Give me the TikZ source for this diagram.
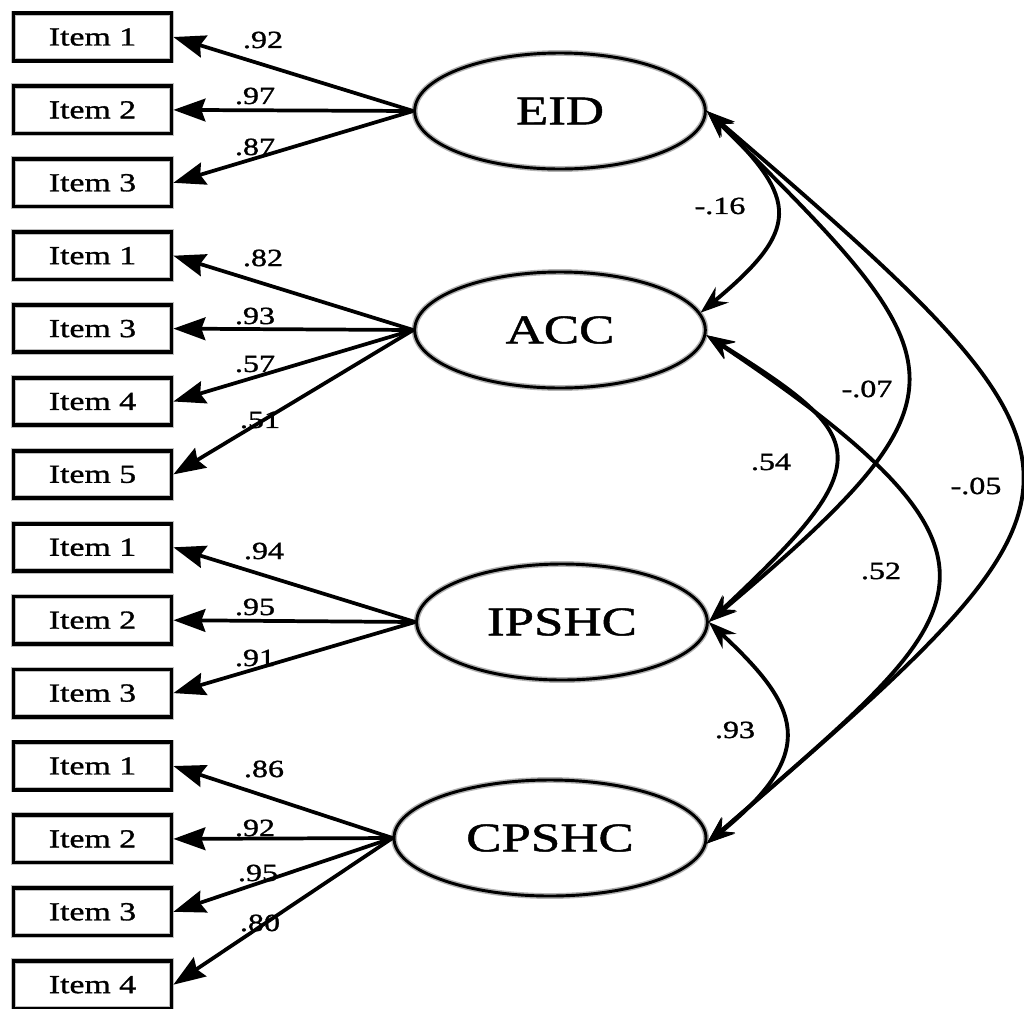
\documentclass[tikz,border=0pt]{standalone}
\usepackage{fontspec}
\setmainfont[FakeStretch=1.3, FakeBold=1.2]{Liberation Serif}
\usetikzlibrary{arrows.meta,shapes.geometric}

\tikzset{
  item/.style={draw=black, line width=2.8pt, minimum width=118.5pt, minimum height=35.5pt,
    inner sep=0pt, font=\fontsize{19.5}{21}\selectfont,
    preaction={draw=black!25, line width=4.2pt}},
  latent/.style={ellipse, draw=black, line width=2.2pt, inner sep=0pt,
    minimum width=218pt, minimum height=87pt, font=\fontsize{30.5}{32}\selectfont,
    preaction={draw=black!30, line width=4.4pt}},
  load/.style={line width=2.8pt, -{Stealth[length=24pt,width=17pt,inset=3pt]}},
  cov/.style={line width=2.9pt,
    {Stealth[length=21pt,width=15pt,inset=7pt]}-{Stealth[length=21pt,width=15pt,inset=7pt]}},
  lab/.style={font=\fontsize{18.5}{20}\selectfont, inner sep=0pt},
}

\begin{document}
\begin{tikzpicture}[x=0.75pt, y=-0.75pt]
\useasboundingbox (0,0) rectangle (1024,1008);

% latent factors
\node[latent] (EID)   at (560,111) {EID};
\node[latent] (ACC)   at (560,330) {ACC};
\node[latent] (IPSHC) at (562,622) {IPSHC};
\node[latent, minimum width=234pt] (CPSHC) at (550,838) {CPSHC};

% indicators
\node[item] (e1) at (92.5,37.0)  {Item 1};
\node[item] (e2) at (92.5,109.9) {Item 2};
\node[item] (e3) at (92.5,182.8) {Item 3};
\node[item] (a1) at (92.5,255.7) {Item 1};
\node[item] (a3) at (92.5,328.6) {Item 3};
\node[item] (a4) at (92.5,401.5) {Item 4};
\node[item] (a5) at (92.5,474.4) {Item 5};
\node[item] (i1) at (92.5,547.3) {Item 1};
\node[item] (i2) at (92.5,620.2) {Item 2};
\node[item] (i3) at (92.5,693.1) {Item 3};
\node[item] (c1) at (92.5,766.0) {Item 1};
\node[item] (c2) at (92.5,838.9) {Item 2};
\node[item] (c3) at (92.5,911.8) {Item 3};
\node[item] (c4) at (92.5,984.7) {Item 4};

% factor loadings
\foreach \t in {e1,e2,e3} \draw[load] (EID.west) -- (\t.east);
\foreach \t in {a1,a3,a4,a5} \draw[load] (ACC.west) -- (\t.east);
\foreach \t in {i1,i2,i3} \draw[load] (IPSHC.west) -- (\t.east);
\foreach \t in {c1,c2,c3,c4} \draw[load] (CPSHC.west) -- (\t.east);

\node[lab] (le1) at (263,40)  {.92};
\node[lab] (le2) at (255,96)  {.97};
\node[lab] (le3) at (255,147) {.87};
\node[lab] (la1) at (263,258) {.82};
\node[lab] (la3) at (255,316) {.93};
\node[lab] (la4) at (255,364) {.57};
\node[lab] (la5) at (260,420) {.51};
\node[lab] (li1) at (264,551) {.94};
\node[lab] (li2) at (255,607) {.95};
\node[lab] (li3) at (255,658) {.91};
\node[lab] (lc1) at (264,769) {.86};
\node[lab] (lc2) at (255,828) {.92};
\node[lab] (lc3) at (258,873) {.95};
\node[lab] (lc4) at (260,923) {.80};

% factor covariances
\draw[cov] (EID.east) .. controls (800,200) and (800,230) .. (ACC.7);
\draw[cov] (EID.east) .. controls (962,363) and (983,391) .. (IPSHC.east);
\draw[cov] (EID.east) .. controls (1131,475) and (1119,487) .. (CPSHC.-2);
\draw[cov] (ACC.-2) .. controls (870,438) and (883,459) .. (IPSHC.east);
\draw[cov] (ACC.-2) .. controls (1054,568) and (969,614) .. (CPSHC.-2);
\draw[cov] (IPSHC.east) .. controls (799,706) and (821,751) .. (CPSHC.-2);

\node[lab] (k1) at (720,206) {-.16};
\node[lab] (k2) at (867,389) {-.07};
\node[lab] (k3) at (771,462) {.54};
\node[lab] (k4) at (976,486) {-.05};
\node[lab] (k5) at (881,571) {.52};
\node[lab] (k6) at (735,730) {.93};
\end{tikzpicture}
\end{document}
